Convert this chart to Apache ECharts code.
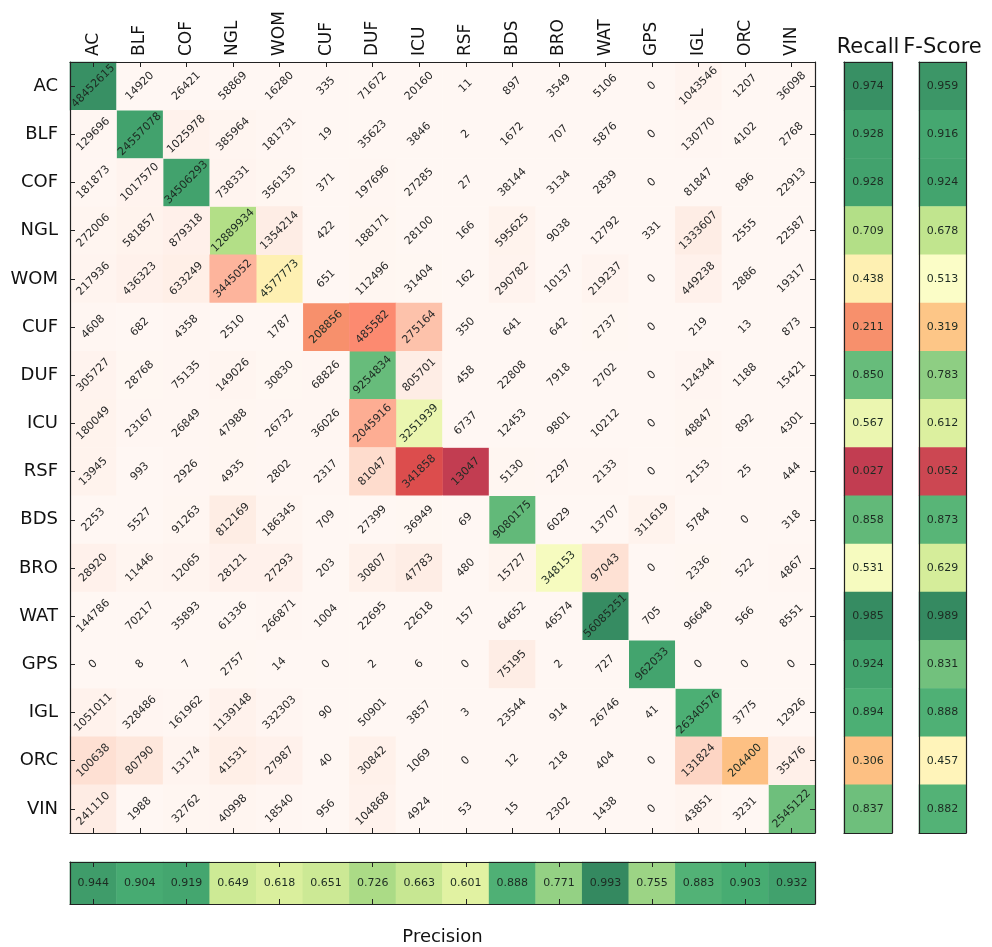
<!DOCTYPE html>
<html><head><meta charset="utf-8">
<script src="https://cdn.jsdelivr.net/npm/echarts@6/dist/echarts.min.js"></script>
<style>html,body{margin:0;padding:0;background:#fff}#c{width:992px;height:947px}</style>
</head><body><div id="c"></div><script>
const classes = ['AC','BLF','COF','NGL','WOM','CUF','DUF','ICU','RSF','BDS','BRO','WAT','GPS','IGL','ORC','VIN'];
const rowAC  = [48452615, 14920, 26421, 58869, 16280, 335, 71672, 20160, 11, 897, 3549, 5106, 0, 1043546, 1207, 36098];
const rowBLF = [129696, 24557078, 1025978, 385964, 181731, 19, 35623, 3846, 2, 1672, 707, 5876, 0, 130770, 4102, 2768];
const rowCOF = [181873, 1017570, 34506293, 738331, 356135, 371, 197696, 27285, 27, 38144, 3134, 2839, 0, 81847, 896, 22913];
const rowNGL = [272006, 581857, 879318, 12889934, 1354214, 422, 188171, 28100, 166, 595625, 9038, 12792, 331, 1333607, 2555, 22587];
const rowWOM = [217936, 436323, 633249, 3445052, 4577773, 651, 112496, 31404, 162, 290782, 10137, 219237, 0, 449238, 2886, 19317];
const rowCUF = [4608, 682, 4358, 2510, 1787, 208856, 485582, 275164, 350, 641, 642, 2737, 0, 219, 13, 873];
const rowDUF = [305727, 28768, 75135, 149026, 30830, 68826, 9254834, 805701, 458, 22808, 7918, 2702, 0, 124344, 1188, 15421];
const rowICU = [180049, 23167, 26849, 47988, 26732, 36026, 2045916, 3251939, 6737, 12453, 9801, 10212, 0, 48847, 892, 4301];
const rowRSF = [13945, 993, 2926, 4935, 2802, 2317, 81047, 341858, 13047, 5130, 2297, 2133, 0, 2153, 25, 444];
const rowBDS = [2253, 5527, 91263, 812169, 186345, 709, 27399, 36949, 69, 9080175, 6029, 13707, 311619, 5784, 0, 318];
const rowBRO = [28920, 11446, 12065, 28121, 27293, 203, 30807, 47783, 480, 15727, 348153, 97043, 0, 2336, 522, 4867];
const rowWAT = [144786, 70217, 35893, 61336, 266871, 1004, 22695, 22618, 157, 64652, 46574, 56085251, 705, 96648, 566, 8551];
const rowGPS = [0, 8, 7, 2757, 14, 0, 2, 6, 0, 75195, 2, 727, 962033, 0, 0, 0];
const rowIGL = [1051011, 328486, 161962, 1139148, 332303, 90, 50901, 3857, 3, 23544, 914, 26746, 41, 26340576, 3775, 12926];
const rowORC = [100638, 80790, 13174, 41531, 27987, 40, 30842, 1069, 0, 12, 218, 404, 0, 131824, 204400, 35476];
const rowVIN = [241110, 1988, 32762, 40998, 18540, 956, 104868, 4924, 53, 15, 2302, 1438, 0, 43851, 3231, 2545122];
const matrix = [rowAC,rowBLF,rowCOF,rowNGL,rowWOM,rowCUF,rowDUF,rowICU,rowRSF,rowBDS,rowBRO,rowWAT,rowGPS,rowIGL,rowORC,rowVIN];
const recall    = [0.974,0.928,0.928,0.709,0.438,0.211,0.850,0.567,0.027,0.858,0.531,0.985,0.924,0.894,0.306,0.837];
const fscore    = [0.959,0.916,0.924,0.678,0.513,0.319,0.783,0.612,0.052,0.873,0.629,0.989,0.831,0.888,0.457,0.882];
const precision = [0.944,0.904,0.919,0.649,0.618,0.651,0.726,0.663,0.601,0.888,0.771,0.993,0.755,0.883,0.903,0.932];

const FONT = 'DejaVu Sans';
const RdYlGn = ['#b73351','#df5952','#f68a69','#fdbe81','#fee6a2','#ffffcc','#e1f2a2','#b8e188','#85ca82','#48ad73','#33865f'];
const Reds = ['#fff7f3','#fee6db','#fdc9b4','#fda88e','#fc886e','#f26256','#d5464a','#b73f44','#85333d'];

const diagData = [], offData = [];
matrix.forEach((row, i) => {
  const total = row.reduce((a, b) => a + b, 0);
  row.forEach((v, j) => {
    if (i === j) diagData.push([j, i, v, recall[i]]);
    else offData.push([j, i, v, v / total]);
  });
});

const lineC = '#222';
function xAx(g, data, pos, opts) {
  return Object.assign({
    type: 'category', gridIndex: g, data: data, position: pos, z: 5,
    axisLine: {show: true, lineStyle: {color: lineC, width: 1.2}},
    axisTick: {show: false},
    axisLabel: {show: false},
    splitLine: {show: false}
  }, opts || {});
}
function yAx(g, data, pos, opts) {
  return Object.assign({
    type: 'category', gridIndex: g, data: data, position: pos, inverse: true, z: 5,
    axisLine: {show: true, lineStyle: {color: lineC, width: 1.2}},
    axisTick: {show: false},
    axisLabel: {show: false},
    splitLine: {show: false}
  }, opts || {});
}
const tickIn = {show: true, inside: true, alignWithLabel: true, length: 5, interval: 0, lineStyle: {color: lineC}};
const tickIn2 = {show: true, inside: true, alignWithLabel: true, length: 5, interval: 1, lineStyle: {color: lineC}};

const one = [''];
const option = {
  animation: false,
  backgroundColor: '#fff',
  textStyle: {fontFamily: FONT},
  grid: [
    {left: 70, top: 62, width: 745, height: 771},
    {left: 844, top: 62, width: 48, height: 771},
    {left: 919, top: 62, width: 47, height: 771},
    {left: 70, top: 862, width: 745, height: 49}
  ],
  xAxis: [
    xAx(0, classes, 'top', {axisTick: tickIn, axisLabel: {show: true, interval: 0, rotate: -90, fontSize: 17, color: '#111', margin: 6, fontFamily: FONT}}),
    xAx(0, classes, 'bottom', {axisTick: tickIn}),
    xAx(1, one, 'top', {name: 'Recall', nameLocation: 'middle', nameGap: 4, nameTextStyle: {fontSize: 21, color: '#111', fontFamily: FONT}}),
    xAx(1, one, 'bottom'),
    xAx(2, one, 'top', {name: 'F-Score', nameLocation: 'middle', nameGap: 4, nameTextStyle: {fontSize: 21, color: '#111', fontFamily: FONT}}),
    xAx(2, one, 'bottom'),
    xAx(3, classes, 'top', {axisTick: tickIn2}),
    xAx(3, classes, 'bottom', {axisTick: tickIn2, name: 'Precision', nameLocation: 'middle', nameGap: 24, nameTextStyle: {fontSize: 18, color: '#111', fontFamily: FONT}})
  ],
  yAxis: [
    yAx(0, classes, 'left', {axisTick: tickIn, axisLabel: {show: true, interval: 0, fontSize: 18, color: '#111', margin: 12, fontFamily: FONT}}),
    yAx(0, classes, 'right', {axisTick: tickIn}),
    yAx(1, classes, 'left'),
    yAx(1, classes, 'right'),
    yAx(2, classes, 'left'),
    yAx(2, classes, 'right'),
    yAx(3, one, 'left'),
    yAx(3, one, 'right')
  ],
  visualMap: [
    {type: 'continuous', show: false, seriesIndex: 0, dimension: 3, min: 0, max: 1, inRange: {color: RdYlGn}},
    {type: 'continuous', show: false, seriesIndex: 1, dimension: 3, min: 0, max: 1, inRange: {color: Reds}},
    {type: 'continuous', show: false, seriesIndex: [2, 3, 4], dimension: 2, min: 0, max: 1, inRange: {color: RdYlGn}}
  ],
  series: [
    {type: 'heatmap', xAxisIndex: 0, yAxisIndex: 0, data: diagData,
     label: {show: true, rotate: 45, fontSize: 11, color: '#1d2b22', fontFamily: FONT, formatter: p => String(p.value[2])},
     emphasis: {disabled: true}},
    {type: 'heatmap', xAxisIndex: 0, yAxisIndex: 0, data: offData,
     label: {show: true, rotate: 45, fontSize: 11, color: '#2a2a2a', fontFamily: FONT, formatter: p => String(p.value[2])},
     emphasis: {disabled: true}},
    {type: 'heatmap', xAxisIndex: 2, yAxisIndex: 2, data: recall.map((v, i) => [0, i, v]),
     label: {show: true, fontSize: 11, color: '#1d2b22', fontFamily: FONT, formatter: p => p.value[2].toFixed(3)},
     emphasis: {disabled: true}},
    {type: 'heatmap', xAxisIndex: 4, yAxisIndex: 4, data: fscore.map((v, i) => [0, i, v]),
     label: {show: true, fontSize: 11, color: '#1d2b22', fontFamily: FONT, formatter: p => p.value[2].toFixed(3)},
     emphasis: {disabled: true}},
    {type: 'heatmap', xAxisIndex: 6, yAxisIndex: 6, data: precision.map((v, i) => [i, 0, v]),
     label: {show: true, fontSize: 11, color: '#1d2b22', fontFamily: FONT, formatter: p => p.value[2].toFixed(3)},
     emphasis: {disabled: true}}
  ]
};
const chart = echarts.init(document.getElementById('c'));
chart.setOption(option);
</script></body></html>
